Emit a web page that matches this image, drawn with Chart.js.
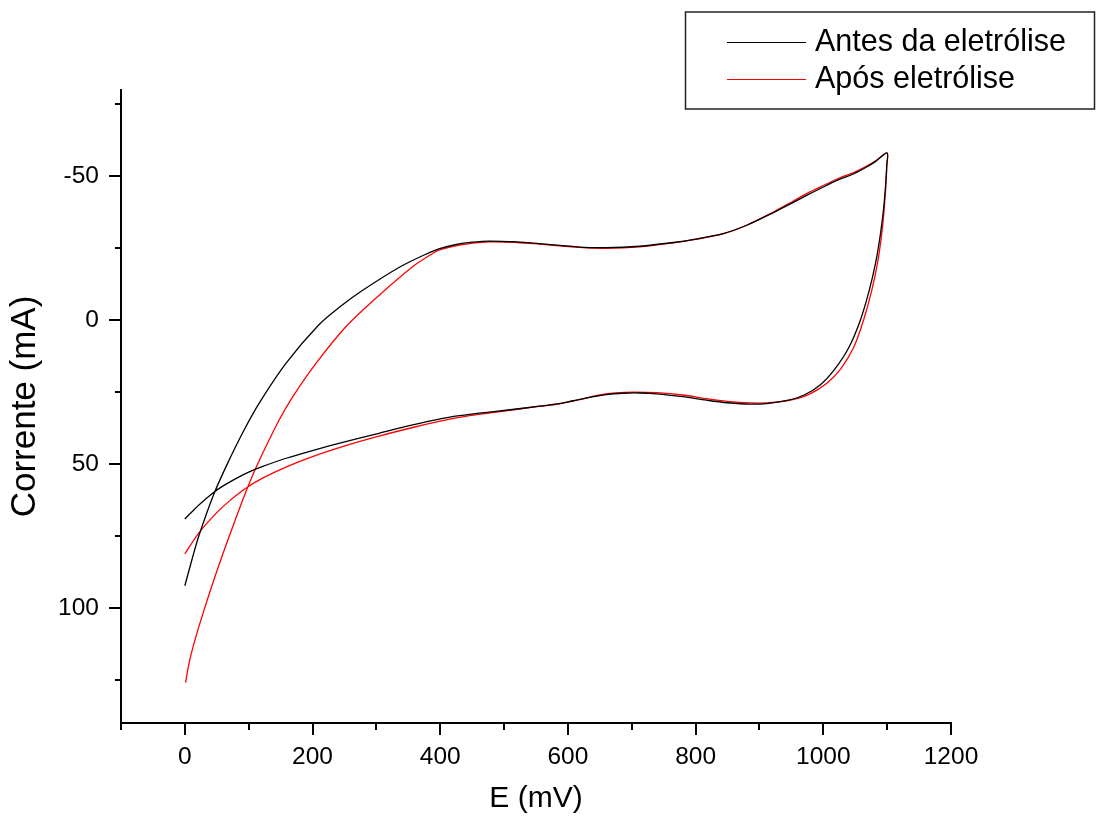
<!DOCTYPE html>
<html>
<head>
<meta charset="utf-8">
<script src="https://cdn.jsdelivr.net/npm/chart.js@4.4.1/dist/chart.umd.min.js"></script>
<style>
  body { margin: 0; background: #fff; }
  canvas { display: block; }
</style>
</head>
<body>
<canvas id="cvChart" width="1098" height="816"></canvas>
<script>
// Potential (mV) and current (mA), forward sweep then return sweep
const antesE = [0, 11.5, 22, 45.5, 69, 92, 116, 158, 210, 245, 278, 336, 383, 399, 425, 450, 477, 520, 556, 618, 660, 712, 765, 800, 843, 880, 922, 950, 974, 1000, 1026, 1047, 1070, 1082, 1100,
                1099.4, 1097.6, 1094.5, 1089.5, 1082, 1071.5, 1058, 1040, 1018, 995, 970, 945, 915, 885, 850, 817, 780, 739, 712, 686, 660, 630, 608, 580, 556, 503, 465, 430, 400, 357, 304, 252, 200, 160, 121, 100, 82, 60, 45.5, 22, 0];
const antesI = [92.3, 82.9, 74.9, 60.4, 48.8, 38.5, 29.0, 15.1, 1.6, -5.0, -10.3, -18.4, -23.5, -24.9, -26.3, -27.1, -27.5, -27.2, -26.6, -25.4, -25.2, -25.7, -27.0, -28.2, -30.1, -33.0, -37.4, -40.6, -43.4, -46.3, -49.0, -50.8, -53.5, -55.2, -58.1,
                -54.0, -47.0, -39.0, -30.0, -20.0, -10.0, 0.0, 9.5, 17.0, 22.5, 26.0, 27.8, 28.9, 29.2, 28.7, 27.8, 26.6, 25.6, 25.3, 25.4, 25.9, 27.0, 28.0, 29.2, 29.9, 31.3, 32.2, 33.2, 34.3, 36.4, 39.3, 42.2, 45.3, 47.9, 50.9, 52.8, 54.8, 57.6, 59.8, 64.2, 69.1];

const aposE = [1.1, 6.3, 14.1, 26.7, 42.4, 59.6, 78.5, 95.3, 111.9, 147.5, 168.4, 205.1, 252.2, 304.5, 356.7, 388.1, 398.6, 430, 477, 520, 556, 618, 660, 712, 765, 800, 843, 880, 922, 950, 974, 1000, 1026, 1047, 1070, 1082, 1100,
               1099.6, 1098, 1095.5, 1091.5, 1085, 1075.5, 1063, 1047.5, 1027, 1005, 980, 952, 925, 896, 850, 817, 780, 739, 702, 675, 650, 630, 608, 580, 556, 503, 465, 430, 400, 357, 304, 252, 200, 160, 121, 95, 70, 50, 22, 0];
const aposI = [126.0, 119.5, 112.5, 103.1, 92.3, 81.2, 69.7, 59.8, 51.0, 34.8, 26.8, 15.1, 2.3, -8.7, -18.6, -23.2, -24.4, -26.1, -27.2, -27.0, -26.4, -25.3, -25.0, -25.5, -26.9, -28.1, -30.0, -33.0, -37.6, -41.0, -44.0, -46.8, -49.5, -51.2, -53.8, -55.4, -58.1,
               -54.0, -47.0, -39.0, -30.0, -20.0, -10.0, 0.0, 9.5, 17.0, 22.0, 25.5, 27.6, 28.5, 28.8, 28.2, 27.3, 26.0, 25.2, 25.0, 25.3, 26.0, 27.0, 28.1, 29.3, 29.9, 31.5, 32.6, 33.8, 35.1, 37.3, 40.3, 43.6, 47.4, 50.9, 55.0, 58.5, 62.8, 66.9, 73.9, 81.2];

const seriesLabels = ['Antes da eletrólise', 'Após eletrólise'];
const xTicks = [0, 200, 400, 600, 800, 1000, 1200];
const yTicks = [-50, 0, 50, 100];
const xMinorTicks = [-100, 100, 300, 500, 700, 900, 1100];
const yMinorTicks = [-75, -25, 25, 75, 125];

const toPoints = (xs, ys) => xs.map((x, i) => ({ x: x, y: ys[i] }));

// Outward tick marks, major and minor, drawn on the axis lines
const axisTicks = {
    id: 'axisTicks',
    afterDraw(chart) {
        const c = chart.ctx;
        const { x, y } = chart.scales;
        const area = chart.chartArea;
        c.save();
        c.strokeStyle = '#000';
        c.lineWidth = 2;
        c.beginPath();
        const xMark = (v, len) => {
            const px = Math.round(x.getPixelForValue(v));
            c.moveTo(px, area.bottom);
            c.lineTo(px, area.bottom + len);
        };
        const yMark = (v, len) => {
            const py = Math.round(y.getPixelForValue(v));
            c.moveTo(area.left, py);
            c.lineTo(area.left - len, py);
        };
        xTicks.forEach(v => xMark(v, 12));
        xMinorTicks.forEach(v => xMark(v, 7));
        yTicks.forEach(v => yMark(v, 12));
        yMinorTicks.forEach(v => yMark(v, 6));
        c.stroke();
        c.restore();
    }
};

// Boxed legend in the top right corner
const legendBox = {
    id: 'legendBox',
    afterDraw(chart) {
        const c = chart.ctx;
        c.save();
        c.strokeStyle = '#222';
        c.lineWidth = 1.5;
        c.strokeRect(685.5, 12, 409, 97);
        chart.data.datasets.forEach((ds, i) => {
            const yy = 42 + i * 37;
            c.strokeStyle = ds.borderColor;
            c.lineWidth = 1;
            c.beginPath();
            c.moveTo(727, yy + 0.5);
            c.lineTo(806, yy + 0.5);
            c.stroke();
            c.fillStyle = '#000';
            c.font = '30.5px "Liberation Sans", Arial, sans-serif';
            c.textBaseline = 'middle';
            c.fillText(ds.label, 815, yy + 1);
        });
        c.restore();
    }
};

const tickFont = { family: '"Liberation Sans", Arial, sans-serif', size: 24.5 };

new Chart(document.getElementById('cvChart').getContext('2d'), {
    type: 'scatter',
    data: {
        datasets: [{
            label: seriesLabels[0],
            data: toPoints(antesE, antesI),
            showLine: true,
            borderColor: '#000000',
            borderWidth: 1.3,
            pointRadius: 0,
            tension: 0.3
        }, {
            label: seriesLabels[1],
            data: toPoints(aposE, aposI),
            showLine: true,
            borderColor: '#ff0000',
            borderWidth: 1.3,
            pointRadius: 0,
            tension: 0.3
        }]
    },
    options: {
        responsive: false,
        animation: false,
        layout: { padding: { top: 90, right: 147, left: 0, bottom: 0 } },
        plugins: {
            legend: { display: false },
            tooltip: { enabled: false }
        },
        scales: {
            x: {
                type: 'linear',
                min: -100,
                max: 1200,
                afterBuildTicks: s => { s.ticks = xTicks.map(v => ({ value: v })); },
                afterFit: s => { s.height = 93; },
                grid: { display: false },
                border: { color: '#000', width: 2 },
                ticks: { font: tickFont, color: '#000', padding: 12, maxRotation: 0, callback: v => String(v) },
                title: {
                    display: true,
                    text: 'E (mV)',
                    color: '#000',
                    font: { family: '"Liberation Sans", Arial, sans-serif', size: 30, lineHeight: 1 },
                    padding: { top: 0, bottom: 2 }
                }
            },
            y: {
                type: 'linear',
                reverse: true,
                min: -80,
                max: 140,
                afterBuildTicks: s => { s.ticks = yTicks.map(v => ({ value: v })); },
                afterFit: s => { s.width = 121; },
                grid: { display: false },
                border: { color: '#000', width: 2 },
                ticks: { font: tickFont, color: '#000', padding: 14, callback: v => String(v) },
                title: {
                    display: true,
                    text: 'Corrente (mA)',
                    color: '#000',
                    font: { family: '"Liberation Sans", Arial, sans-serif', size: 35, lineHeight: 1 },
                    padding: { top: 8, bottom: 0 }
                }
            }
        }
    },
    plugins: [axisTicks, legendBox]
});
</script>
</body>
</html>
